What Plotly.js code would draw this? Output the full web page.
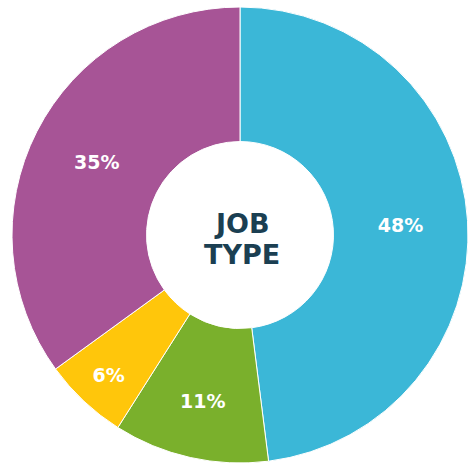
<!DOCTYPE html>
<html><head><meta charset="utf-8">
<script src="https://cdn.plot.ly/plotly-3.0.1.min.js"></script>
<style>html,body{margin:0;padding:0;background:#fff;}#chart{width:469px;height:463px;}</style>
</head><body><div id="chart"></div>
<script>
const categories = ["Type A", "Type B", "Type C", "Type D"];
const shares = [48, 11, 6, 35];
const sliceLabels = ["48%", "11%", "6%", "35%"];
const colors = ["#3BB7D7", "#7AB02C", "#FFC60B", "#A75496"];
const centerLines = ["JOB", "TYPE"];

const W = 469, H = 463, cx = 240, cy = 235, R = 228;
const labelFont = {family: "'DejaVu Sans', sans-serif", size: 19, color: "#ffffff", weight: 700};
const data = [{
  type: "pie",
  labels: categories,
  values: shares,
  text: sliceLabels,
  textinfo: "text",
  textposition: "inside",
  insidetextorientation: "horizontal",
  hole: 0.41,
  sort: false,
  direction: "clockwise",
  rotation: 0,
  marker: {colors: colors, line: {color: "#ffffff", width: 1}},
  textfont: labelFont,
  insidetextfont: labelFont,
  domain: {x: [(cx - R) / W, (cx + R) / W], y: [(H - cy - R) / H, (H - cy + R) / H]},
  showlegend: false,
  hoverinfo: "none"
}];
const centerFont = {family: "'DejaVu Sans', sans-serif", size: 27, color: "#1B3F52", weight: 700};
const layout = {
  width: W, height: H,
  margin: {l: 0, r: 0, t: 0, b: 0},
  paper_bgcolor: "#ffffff",
  showlegend: false,
  annotations: centerLines.map((t, i) => ({
    text: t,
    x: 242 / W, y: 1 - (223 + i * 31) / H, xref: "paper", yref: "paper",
    xanchor: "center", yanchor: "middle",
    showarrow: false,
    font: centerFont
  }))
};
Plotly.newPlot("chart", data, layout, {staticPlot: true, displayModeBar: false});
</script></body></html>
